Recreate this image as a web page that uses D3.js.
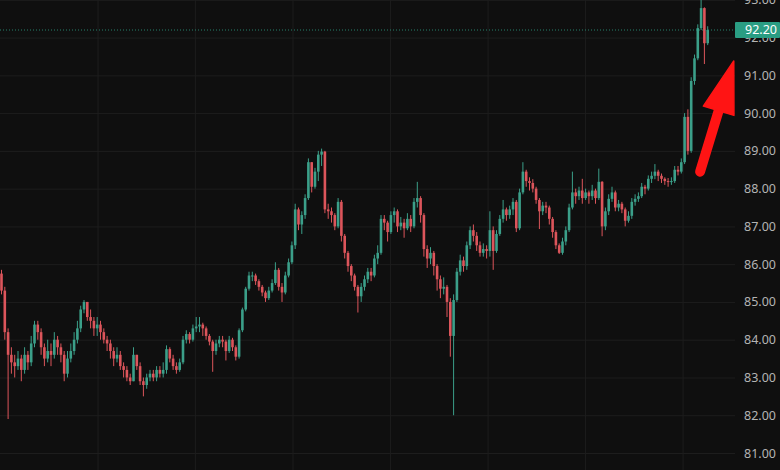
<!DOCTYPE html>
<html>
<head>
<meta charset="utf-8">
<script src="https://cdn.jsdelivr.net/npm/d3@7"></script>
<style>
  body { margin: 0; background: #0f0f0f; }
  svg { display: block; }
</style>
</head>
<body>
<div id="chart"></div>
<script>
// one candle per entry; each open is the previous close
const firstOpen = 85.75;

const closes = [
  85.3, 84.2, 83.6, 83.4, 83.3, 83.5, 83.2, 83.6, 83.4, 83.9,
  84.4, 84.2, 83.8, 83.5, 83.7, 83.6, 84.0, 83.8, 83.6, 83.1,
  83.5, 83.7, 84.0, 84.3, 84.8, 85.0, 84.6, 84.5, 84.3, 84.4,
  84.2, 84.0, 83.9, 83.7, 83.5, 83.6, 83.3, 83.2, 83.0, 82.9,
  83.6, 83.3, 82.9, 82.8, 83.0, 83.1, 83.0, 83.2, 83.1, 83.2,
  83.75, 83.5, 83.3, 83.2, 83.4, 84.0, 84.15, 84.0, 84.3, 84.35,
  84.4, 84.3, 84.1, 83.95, 83.7, 83.9, 84.0, 83.95, 83.7, 84.0,
  83.8, 83.55, 84.25, 84.8, 85.35, 85.7, 85.7, 85.55, 85.4, 85.25,
  85.1, 85.3, 85.5, 85.85, 85.4, 85.25, 85.7, 86.05, 86.5, 87.45,
  87.05, 87.3, 87.75, 88.7, 88.05, 88.45, 88.9, 88.98, 87.45, 87.4,
  87.3, 87.0, 87.65, 86.75, 86.3, 85.95, 85.7, 85.4, 85.15, 85.4,
  85.6, 85.8, 85.7, 86.15, 86.3, 87.2, 87.1, 86.85, 87.3, 87.4,
  87.0, 87.1, 86.95, 87.2, 87.0, 87.65, 87.75, 87.3, 86.4, 86.15,
  86.3, 85.95, 85.6, 85.35, 85.4, 85.0, 84.1, 85.05, 85.8, 86.1,
  85.95, 86.5, 86.9, 86.75, 86.5, 86.3, 86.4, 86.35, 86.9, 86.35,
  86.8, 87.2, 87.45, 87.3, 87.45, 87.65, 86.95, 87.9, 88.45, 88.2,
  88.15, 88.0, 87.7, 87.4, 87.55, 87.5, 87.2, 86.85, 86.5, 86.3,
  86.6, 86.9, 87.5, 87.9, 87.8, 87.95, 87.75, 87.9, 87.8, 87.95,
  87.75, 88.18, 87.0, 87.4, 87.73, 87.9, 87.5, 87.6, 87.45, 87.15,
  87.28, 87.65, 87.73, 87.8, 88.05, 88.0, 88.26, 88.34, 88.45, 88.34,
  88.26, 88.2, 88.18, 88.2, 88.5, 88.45, 88.7, 89.9, 89.0, 90.85,
  91.45, 92.25, 92.78, 91.85, 92.2
];

const highs = [
  85.85, 85.4, 84.3, 83.8, 83.6, 83.7, 83.6, 83.8, 83.7, 84.1,
  84.5, 84.5, 84.3, 83.9, 84.0, 83.9, 84.2, 84.1, 83.9, 83.7,
  83.7, 83.9, 84.2, 84.5, 84.9, 85.05, 85.0, 84.8, 84.6, 84.6,
  84.5, 84.3, 84.1, 84.0, 83.8, 83.8, 83.7, 83.4, 83.3, 83.1,
  83.8, 83.6, 83.4, 83.0, 83.1, 83.2, 83.2, 83.3, 83.3, 83.4,
  83.85, 83.8, 83.6, 83.4, 83.5, 84.1, 84.25, 84.2, 84.4, 84.6,
  84.6, 84.45, 84.35, 84.15, 84.0, 84.0, 84.1, 84.1, 84.0, 84.1,
  84.05, 83.85, 84.3, 84.85, 85.4, 85.8, 85.8, 85.75, 85.6, 85.45,
  85.3, 85.4, 85.6, 86.05, 85.9, 85.5, 85.8, 86.15, 86.6, 87.6,
  87.5, 87.4, 87.85, 88.8, 88.7, 88.55, 89.0, 89.06, 89.0, 87.6,
  87.5, 87.35, 87.75, 87.7, 86.8, 86.35, 86.0, 85.75, 85.45, 85.5,
  85.7, 85.9, 85.9, 86.25, 86.5, 87.3, 87.3, 87.15, 87.4, 87.5,
  87.45, 87.25, 87.2, 87.35, 87.3, 87.75, 88.18, 87.8, 87.35, 86.5,
  86.45, 86.35, 86.0, 85.7, 85.65, 85.45, 85.1, 85.2, 85.9, 86.25,
  86.2, 86.6, 87.0, 87.05, 86.85, 86.6, 86.55, 86.5, 87.4, 87.0,
  86.9, 87.3, 87.7, 87.5, 87.55, 87.75, 87.7, 88.0, 88.7, 88.5,
  88.3, 88.25, 88.05, 87.75, 87.65, 87.65, 87.55, 87.25, 86.9, 86.55,
  86.7, 87.0, 87.6, 88.45, 88.0, 88.05, 88.26, 88.0, 87.95, 88.1,
  88.0, 88.53, 88.2, 87.5, 87.85, 88.05, 87.95, 87.7, 87.65, 87.5,
  87.4, 87.75, 87.85, 87.9, 88.15, 88.1, 88.35, 88.45, 88.65, 88.5,
  88.4, 88.3, 88.28, 88.3, 88.6, 88.6, 88.8, 90.0, 90.1, 90.95,
  91.55, 92.35, 93.05, 92.8, 92.3
];

const lows = [
  85.2, 84.0, 81.9, 83.1, 83.0, 83.2, 82.9, 83.1, 83.2, 83.3,
  83.8, 84.0, 83.6, 83.3, 83.4, 83.3, 83.5, 83.6, 83.4, 82.9,
  83.0, 83.4, 83.6, 83.9, 84.2, 84.7, 84.5, 84.3, 84.1, 84.1,
  84.0, 83.9, 83.7, 83.5, 83.3, 83.4, 83.2, 83.0, 82.9, 82.8,
  82.9, 83.2, 82.8, 82.5, 82.7, 82.9, 82.9, 82.9, 83.0, 83.0,
  83.1, 83.4, 83.2, 83.1, 83.15, 83.35, 83.9, 83.9, 83.95, 84.2,
  84.2, 84.1, 84.0, 83.85, 83.15, 83.6, 83.8, 83.8, 83.45, 83.65,
  83.7, 83.45, 83.5, 84.2, 84.75, 85.3, 85.55, 85.45, 85.3, 85.15,
  85.0, 85.05, 85.25, 85.45, 85.3, 85.0, 85.2, 85.65, 86.0, 86.4,
  86.9, 86.8, 87.2, 87.7, 87.9, 88.0, 88.2, 88.6, 87.35, 87.2,
  87.1, 86.9, 86.95, 86.6, 86.15, 85.8, 85.55, 85.3, 84.72, 85.0,
  85.3, 85.5, 85.55, 85.65, 86.0, 86.25, 86.9, 86.6, 86.8, 87.1,
  86.85, 86.9, 86.7, 86.9, 86.85, 86.95, 87.5, 87.1, 86.2, 85.9,
  86.0, 85.7, 85.3, 85.1, 85.2, 84.6, 83.55, 82.0, 85.0, 85.7,
  85.8, 85.85, 86.4, 86.6, 86.35, 86.2, 86.2, 86.15, 86.2, 85.85,
  86.3, 86.75, 87.1, 87.15, 87.2, 87.3, 86.85, 86.9, 87.85, 88.05,
  87.95, 87.9, 87.6, 86.93, 87.3, 87.35, 87.05, 86.7, 86.4, 86.27,
  86.25, 86.5, 86.85, 87.45, 87.6, 87.7, 87.6, 87.7, 87.6, 87.7,
  87.6, 87.7, 86.74, 86.9, 87.3, 87.65, 87.4, 87.4, 87.35, 87.0,
  87.1, 87.2, 87.55, 87.65, 87.75, 87.85, 87.95, 88.15, 88.25, 88.2,
  88.15, 88.1, 88.05, 88.1, 88.15, 88.35, 88.4, 88.65, 88.9, 88.95,
  90.75, 91.4, 92.2, 91.3, 91.8
];

const priceTicks = [81, 82, 83, 84, 85, 86, 87, 88, 89, 90, 91, 92, 93];
// time grid lines, in candle index units
const timeTicks = [29.1, 58.6, 88.2, 117.7, 147.3, 176.8, 206.4];
const lastPrice = 92.20;
// red annotation arrow, candle index / price
const arrowFrom = {i: 211.7, p: 88.45};
const arrowTo = {i: 221.9, p: 91.38};

class CandleChart {
  constructor(_open, _closes, _highs, _lows) {
    this.width = 780;
    this.height = 470;
    this.plotRight = 735;

    this.data = _closes.map((c, i) => ({
      i: i,
      o: i === 0 ? _open : _closes[i - 1],
      c: c,
      h: _highs[i],
      l: _lows[i]
    }));

    this.initVis();
  }

  initVis() {
    let vis = this;

    vis.svg = d3.select("#chart")
      .append("svg")
        .attr("width", vis.width)
        .attr("height", vis.height);

    vis.svg.append("rect")
      .attr("width", vis.width)
      .attr("height", vis.height)
      .attr("fill", "#0f0f0f");

    vis.x = d3.scaleLinear()
      .domain([0, vis.data.length - 1])
      .range([1.5, 1.5 + 3.3 * (vis.data.length - 1)]);

    vis.y = d3.scaleLinear()
      .domain([81, 93])
      .range([453, -0.2]);

    // grid
    vis.svg.append("g")
      .attr("class", "grid")
      .call(d3.axisRight(vis.y).tickValues(priceTicks).tickSize(vis.plotRight).tickFormat(""))
      .call(g => g.select(".domain").remove())
      .call(g => g.selectAll("line").attr("stroke", "#1d1d1d"));

    vis.svg.append("g")
      .attr("class", "grid")
      .call(d3.axisBottom(vis.x).tickValues(timeTicks).tickSize(vis.height).tickFormat(""))
      .call(g => g.select(".domain").remove())
      .call(g => g.selectAll("line").attr("stroke", "#1d1d1d"));

    vis.renderVis();
  }

  renderVis() {
    let vis = this;
    const up = "#3b9f89", down = "#dc555b";
    const bodyW = 2.6;

    let candles = vis.svg.append("g").selectAll("g")
      .data(vis.data)
      .join("g");

    candles.append("line")
      .attr("x1", d => vis.x(d.i))
      .attr("x2", d => vis.x(d.i))
      .attr("y1", d => vis.y(d.h))
      .attr("y2", d => vis.y(d.l))
      .attr("stroke", d => d.c >= d.o ? up : down)
      .attr("stroke-width", 1);

    candles.append("rect")
      .attr("x", d => vis.x(d.i) - bodyW / 2)
      .attr("y", d => vis.y(Math.max(d.o, d.c)))
      .attr("width", bodyW)
      .attr("height", d => Math.max(1, Math.abs(vis.y(d.o) - vis.y(d.c))))
      .attr("fill", d => d.c >= d.o ? up : down);

    // last price line
    vis.svg.append("line")
      .attr("x1", 0)
      .attr("x2", vis.plotRight)
      .attr("y1", vis.y(lastPrice))
      .attr("y2", vis.y(lastPrice))
      .attr("stroke", "#2a9d83")
      .attr("stroke-opacity", 0.8)
      .attr("stroke-dasharray", "1,2");

    // price axis
    vis.svg.append("g")
      .attr("transform", "translate(744,0)")
      .call(d3.axisRight(vis.y).tickValues(priceTicks).tickFormat(d3.format(".2f")).tickSize(0).tickPadding(0))
      .call(g => g.select(".domain").remove())
      .call(g => g.selectAll("text")
        .attr("fill", "#b4b4b4")
        .style("font-family", "'Noto Sans', sans-serif")
        .style("font-size", "12.5px"));

    // last price tag
    vis.svg.append("rect")
      .attr("x", 735)
      .attr("y", vis.y(lastPrice) - 8)
      .attr("width", 45)
      .attr("height", 16)
      .attr("rx", 1)
      .attr("fill", "#2a9d83");

    vis.svg.append("text")
      .attr("x", 745)
      .attr("y", vis.y(lastPrice))
      .attr("dy", "0.35em")
      .attr("fill", "#ffffff")
      .style("font-family", "'Noto Sans', sans-serif")
      .style("font-size", "12.5px")
      .text(d3.format(".2f")(lastPrice));

    vis.drawArrow();
  }

  drawArrow() {
    let vis = this;
    const x0 = vis.x(arrowFrom.i), y0 = vis.y(arrowFrom.p);
    const x1 = vis.x(arrowTo.i), y1 = vis.y(arrowTo.p);
    const len = Math.hypot(x0 - x1, y0 - y1);
    const ux = (x0 - x1) / len, uy = (y0 - y1) / len;
    const headL = 52, headW = 16;
    const bx = x1 + ux * headL, by = y1 + uy * headL;

    vis.svg.append("line")
      .attr("x1", x0).attr("y1", y0)
      .attr("x2", bx - ux * 4).attr("y2", by - uy * 4)
      .attr("stroke", "#ff1414")
      .attr("stroke-width", 10)
      .attr("stroke-linecap", "round");

    vis.svg.append("path")
      .attr("d", d3.line()([
        [x1, y1],
        [bx - uy * headW, by + ux * headW],
        [bx + uy * headW, by - ux * headW]
      ]) + "Z")
      .attr("fill", "#ff1414")
      .attr("stroke", "#ff1414")
      .attr("stroke-width", 1.5)
      .attr("stroke-linejoin", "round");
  }
}

new CandleChart(firstOpen, closes, highs, lows);
</script>
</body>
</html>
